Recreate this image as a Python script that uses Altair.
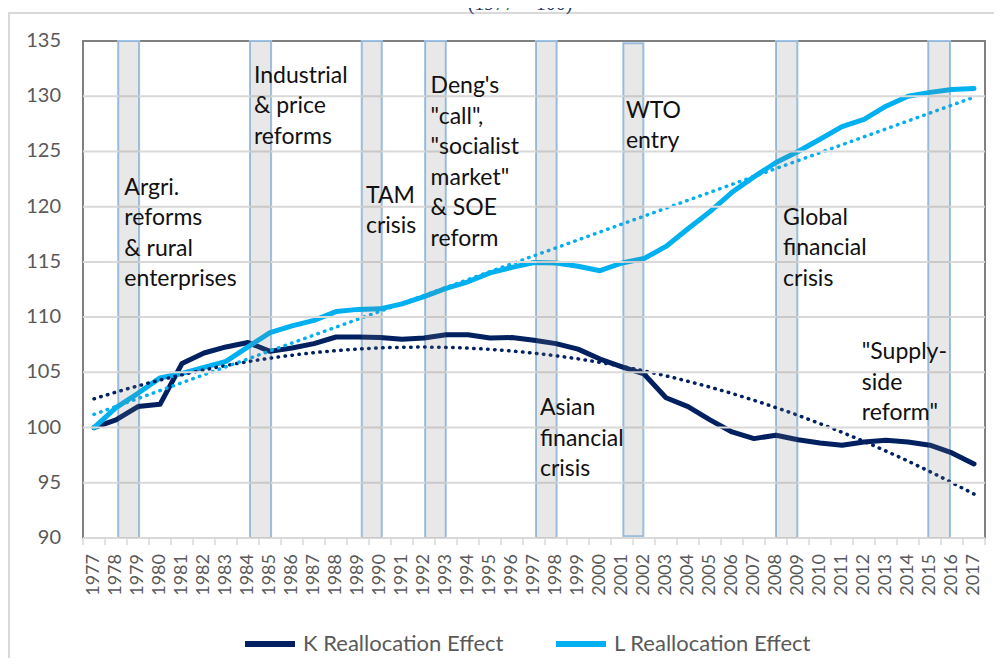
import altair as alt
import pandas as pd

# ---------------- data ----------------
years = list(range(1977, 2018))
k_values = [100.0, 100.7, 101.9, 102.1, 105.8, 106.75, 107.3, 107.7, 106.9, 107.2,
            107.6, 108.2, 108.2, 108.15, 108.0, 108.1, 108.4, 108.4, 108.1, 108.15,
            107.9, 107.6, 107.1, 106.2, 105.5, 104.85, 102.7, 101.9, 100.7, 99.6,
            99.0, 99.3, 98.9, 98.6, 98.4, 98.7, 98.85, 98.7, 98.4, 97.7, 96.7]
l_values = [100.0, 101.8, 103.1, 104.5, 104.9, 105.45, 106.0, 107.3, 108.6, 109.2,
            109.7, 110.5, 110.7, 110.75, 111.2, 111.85, 112.6, 113.2, 114.0, 114.5,
            114.95, 114.9, 114.6, 114.2, 114.9, 115.3, 116.4, 118.0, 119.55, 121.3,
            122.7, 124.0, 125.0, 126.1, 127.25, 127.9, 129.1, 130.0, 130.35, 130.6, 130.7]
series_names = ["K Reallocation Effect", "L Reallocation Effect"]
series_colors = ["#002060", "#00b0f0"]

# shaded event bands (in year units)
bar_start = [1978.10, 1984.09, 1989.17, 1992.05, 1997.09, 2001.06, 2008.00, 2014.92]
bar_end = [1979.05, 1985.05, 1990.08, 1992.99, 1998.03, 2001.97, 2008.97, 2015.91]
bar_top = [135, 135, 135, 135, 135, 134.8, 135, 135]
bar_bottom = [90, 90, 90, 90, 90, 90.15, 90, 90]

# annotations: text, anchor year, anchor value (top-left of the text block)
note_texts = ["Argri.\nreforms\n& rural\nenterprises",
              "Industrial\n& price\nreforms",
              "TAM\ncrisis",
              "Deng's\n\"call\",\n\"socialist\nmarket\"\n& SOE\nreform",
              "WTO\nentry",
              "Global\nfinancial\ncrisis",
              "Asian\nfinancial\ncrisis",
              "\"Supply-\nside\nreform\""]
note_year = [1978.38, 1984.27, 1989.36, 1992.30, 2001.18, 2008.32, 1997.27, 2011.90]
note_value = [122.7, 132.85, 122.0, 131.9, 129.7, 120.0, 102.75, 107.8]

y_ticks = [90, 95, 100, 105, 110, 115, 120, 125, 130, 135]
top_title = ["(1977 = 100)"]

# ---------------- tables ----------------
long_df = pd.DataFrame({
    "year": years * 2,
    "value": k_values + l_values,
    "series": [series_names[0]] * len(years) + [series_names[1]] * len(years),
})
wide_df = pd.DataFrame({"year": years, "K": k_values, "L": l_values})
bars_df = pd.DataFrame({"start": bar_start, "end": bar_end, "top": bar_top, "bottom": bar_bottom})
notes_df = pd.DataFrame({"label": note_texts, "year": note_year, "value": note_value})
ticks_df = pd.DataFrame({"b": [y - 0.5 for y in years] + [years[-1] + 0.5]})
grid_df = pd.DataFrame({"g": y_ticks[:-1]})
ylab_df = pd.DataFrame({"v": y_ticks, "txt": [str(v) for v in y_ticks]})
xlab_df = pd.DataFrame({"year": years, "txt": [str(y) for y in years]})
one_df = pd.DataFrame({"t": top_title})

W, H = 902, 497
FONT = "Lato"
xscale = alt.Scale(domain=[years[0] - 0.5, years[-1] + 0.5], nice=False, zero=False)
yscale = alt.Scale(domain=[y_ticks[0], y_ticks[-1]], nice=False, zero=False)

frame = alt.Chart(one_df).mark_rect(fill="transparent", stroke="#d9d9d9", strokeWidth=2).encode(
    x=alt.value(-74), x2=alt.value(1000), y=alt.value(-28), y2=alt.value(700))

title = alt.Chart(one_df).mark_text(font="Liberation Serif", fontSize=20, color="#1f3864",
                                     align="center", baseline="alphabetic").encode(
    x=alt.value(437), y=alt.value(-31), text="t:N")

grid = alt.Chart(grid_df).mark_rule(color="#d9d9d9", strokeWidth=2).encode(
    y=alt.Y("g:Q", scale=yscale, axis=None), x=alt.value(0), x2=alt.value(W))

ticks = alt.Chart(ticks_df).mark_rule(color="#d9d9d9", strokeWidth=1.5).encode(
    x=alt.X("b:Q", scale=xscale, axis=None), y=alt.value(H), y2=alt.value(H + 7))

y_labels = alt.Chart(ylab_df).mark_text(align="right", baseline="middle", font=FONT,
                                         fontSize=20, color="#595959").encode(
    y=alt.Y("v:Q", scale=yscale, axis=None), x=alt.value(-22), text="txt:N")

x_labels = alt.Chart(xlab_df).mark_text(angle=270, align="right", baseline="middle", font=FONT,
                                         fontSize=18, color="#595959").encode(
    x=alt.X("year:Q", scale=xscale, axis=None), y=alt.value(H + 16), text="txt:N")

bar_edges = alt.Chart(bars_df).mark_rect(fill="transparent", stroke="#9dc3e6", strokeWidth=2).encode(
    x=alt.X("start:Q", scale=xscale, axis=None), x2="end:Q",
    y=alt.Y("top:Q", scale=yscale, axis=None), y2="bottom:Q")

lines = alt.Chart(long_df).mark_line(strokeWidth=5, strokeJoin="round", strokeCap="round").encode(
    x=alt.X("year:Q", scale=xscale, axis=None),
    y=alt.Y("value:Q", scale=yscale, axis=None),
    color=alt.Color("series:N",
                    scale=alt.Scale(domain=series_names, range=series_colors),
                    legend=alt.Legend(orient="none", legendX=159, legendY=575,
                                      direction="horizontal", title=None,
                                      symbolType="stroke", symbolSize=2500,
                                      symbolStrokeWidth=6, labelFont=FONT,
                                      labelFontSize=22, labelColor="#595959",
                                      labelLimit=400, labelOffset=5,
                                      columnPadding=40)),
)

k_trend = alt.Chart(wide_df).transform_regression("year", "K", method="poly", order=2).mark_line(
    color=series_colors[0], strokeWidth=3.5, strokeDash=[0.5, 6.5], strokeCap="round").encode(
    x=alt.X("year:Q", scale=xscale, axis=None), y=alt.Y("K:Q", scale=yscale, axis=None))

l_trend = alt.Chart(wide_df).transform_regression("year", "L", method="linear").mark_line(
    color=series_colors[1], strokeWidth=3.5, strokeDash=[0.5, 6.5], strokeCap="round").encode(
    x=alt.X("year:Q", scale=xscale, axis=None), y=alt.Y("L:Q", scale=yscale, axis=None))

bar_fill = alt.Chart(bars_df).mark_rect(fill="#808080", fillOpacity=0.18).encode(
    x=alt.X("start:Q", scale=xscale, axis=None), x2="end:Q",
    y=alt.Y("top:Q", scale=yscale, axis=None), y2="bottom:Q")

notes = alt.Chart(notes_df).mark_text(align="left", baseline="top", font=FONT, fontSize=23,
                                       lineHeight=30.5, lineBreak="\n", color="#111111").encode(
    x=alt.X("year:Q", scale=xscale, axis=None),
    y=alt.Y("value:Q", scale=yscale, axis=None),
    text="label:N")

chart = alt.layer(frame, title, bar_edges, lines, k_trend, l_trend, grid, ticks,
                  y_labels, x_labels, bar_fill, notes).properties(
    width=W, height=H,
    autosize=alt.AutoSizeParams(type="none"),
    padding={"left": 75, "top": 33, "right": 9, "bottom": 120},
).configure_view(stroke="#808080", strokeWidth=2)

chart.save("out.html", embed_options={"renderer": "svg", "actions": False})
